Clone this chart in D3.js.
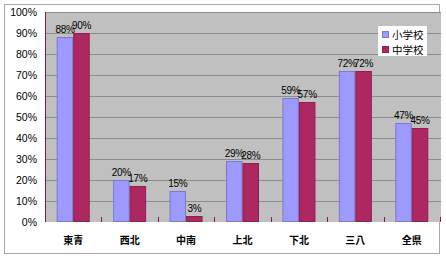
<!DOCTYPE html>
<html lang="ja">
<head>
  <meta charset="UTF-8">
  <title>school chart</title>
  <script src="https://d3js.org/d3.v7.min.js"></script>
  <style>
    body { margin: 0; padding: 0; background: #fff; }
    #chart { width: 446px; height: 259px; }
  </style>
</head>
<body>
  <div id="chart"></div>
<script>
  // data
  const categories = ['東青', '西北', '中南', '上北', '下北', '三八', '全県']
  const seriesNames = ['小学校', '中学校']
  const elementary = [88, 20, 15, 29, 59, 72, 47]
  const junior = [90, 17, 3, 28, 57, 72, 45]
  const yTicks = [0, 10, 20, 30, 40, 50, 60, 70, 80, 90, 100]
  const colors = ['#9c99ff', '#ad2760']
  const strokes = ['#7a78d0', '#8f1f50']

  const width = 446, height = 259
  const plot = { left: 45, right: 440, top: 12, bottom: 222 }

  const svg = d3.select('#chart')
    .append('svg')
    .attr('width', width)
    .attr('height', height)

  // outer chart border
  svg.append('rect')
    .attr('x', 4.5).attr('y', 4.5)
    .attr('width', 435).attr('height', 249)
    .attr('fill', '#fff')
    .attr('stroke', '#a8a8a8')

  // plot background
  svg.append('rect')
    .attr('x', plot.left).attr('y', plot.top)
    .attr('width', plot.right - plot.left + 1).attr('height', plot.bottom - plot.top)
    .attr('fill', '#c0c0c0')

  const x = d3.scaleBand()
    .domain(categories)
    .range([plot.left, plot.right])
    .paddingInner(0.415)
    .paddingOuter(0.2075)

  const xs = d3.scaleBand()
    .domain(seriesNames)
    .range([0, x.bandwidth()])

  const y = d3.scaleLinear()
    .domain([0, 100])
    .range([plot.bottom, plot.top])

  // gridlines
  svg.append('g')
    .selectAll('line')
    .data(yTicks.filter(d => d > 0))
    .join('line')
    .attr('x1', plot.left).attr('x2', plot.right + 1)
    .attr('y1', d => Math.round(y(d)) + 0.5)
    .attr('y2', d => Math.round(y(d)) + 0.5)
    .attr('stroke', '#8c8c8c')
    .attr('stroke-width', 1)

  // y axis labels
  svg.append('g')
    .selectAll('text')
    .data(yTicks)
    .join('text')
    .attr('x', 37)
    .attr('y', d => y(d) + 3.5)
    .attr('text-anchor', 'end')
    .attr('font-family', 'Liberation Sans, Arial, sans-serif')
    .attr('font-size', 10.5)
    .attr('fill', '#000')
    .text(d => d + '%')

  const rows = categories.map((c, i) => ({ cat: c, vals: [elementary[i], junior[i]] }))

  // bars
  const groups = svg.append('g')
    .selectAll('g')
    .data(rows)
    .join('g')
    .attr('transform', d => `translate(${x(d.cat)},0)`)

  groups.selectAll('rect')
    .data(d => d.vals.map((v, k) => ({ name: seriesNames[k], k, v })))
    .join('rect')
    .attr('x', d => xs(d.name) + 0.5)
    .attr('y', d => Math.round(y(d.v)) + 0.5)
    .attr('width', xs.bandwidth() - 1)
    .attr('height', d => plot.bottom - Math.round(y(d.v)) - 1)
    .attr('fill', d => colors[d.k])
    .attr('stroke', d => strokes[d.k])
    .attr('stroke-width', 1)

  groups.selectAll('text')
    .data(d => d.vals.map((v, k) => ({ name: seriesNames[k], k, v })))
    .join('text')
    .attr('x', d => xs(d.name) + xs.bandwidth() / 2)
    .attr('y', d => y(d.v) - 4)
    .attr('text-anchor', 'middle')
    .attr('font-family', 'Liberation Sans, Arial, sans-serif')
    .attr('font-size', 10)
    .attr('letter-spacing', -0.3)
    .attr('fill', '#000')
    .text(d => d.v + '%')

  // left axis line
  svg.append('line')
    .attr('x1', plot.left + 0.5).attr('x2', plot.left + 0.5)
    .attr('y1', plot.top).attr('y2', plot.bottom)
    .attr('stroke', '#8a1a4a')

  // x ticks (between categories, pointing up)
  const tickXs = categories.map((c, i) => plot.left + x.step() * (i + 1))
  svg.append('g')
    .selectAll('line')
    .data(tickXs)
    .join('line')
    .attr('x1', d => Math.round(d) + 0.5).attr('x2', d => Math.round(d) + 0.5)
    .attr('y1', plot.bottom - 5).attr('y2', plot.bottom)
    .attr('stroke', '#8a1a4a')

  // x labels
  svg.append('g')
    .selectAll('text')
    .data(categories)
    .join('text')
    .attr('x', d => x(d) + x.bandwidth() / 2)
    .attr('y', 244)
    .attr('text-anchor', 'middle')
    .attr('font-family', 'Noto Sans CJK JP, sans-serif')
    .attr('font-weight', 'bold')
    .attr('font-size', 10)
    .attr('fill', '#000')
    .text(d => d)

  // legend
  const legend = svg.append('g')
  legend.append('rect')
    .attr('x', 378).attr('y', 26)
    .attr('width', 49).attr('height', 30)
    .attr('fill', '#fff')

  const items = legend.selectAll('g')
    .data(seriesNames)
    .join('g')
    .attr('transform', (d, i) => `translate(382,${31 + i * 15})`)

  items.append('rect')
    .attr('x', 0.5).attr('y', 0.5)
    .attr('width', 6).attr('height', 6)
    .attr('fill', (d, i) => colors[i])
    .attr('stroke', (d, i) => strokes[i])

  items.append('text')
    .attr('x', 10)
    .attr('y', 7.5)
    .attr('font-family', 'Noto Sans CJK JP, sans-serif')
    .attr('font-size', 10.5)
    .attr('fill', '#000')
    .text(d => d)
</script>
</body>
</html>
